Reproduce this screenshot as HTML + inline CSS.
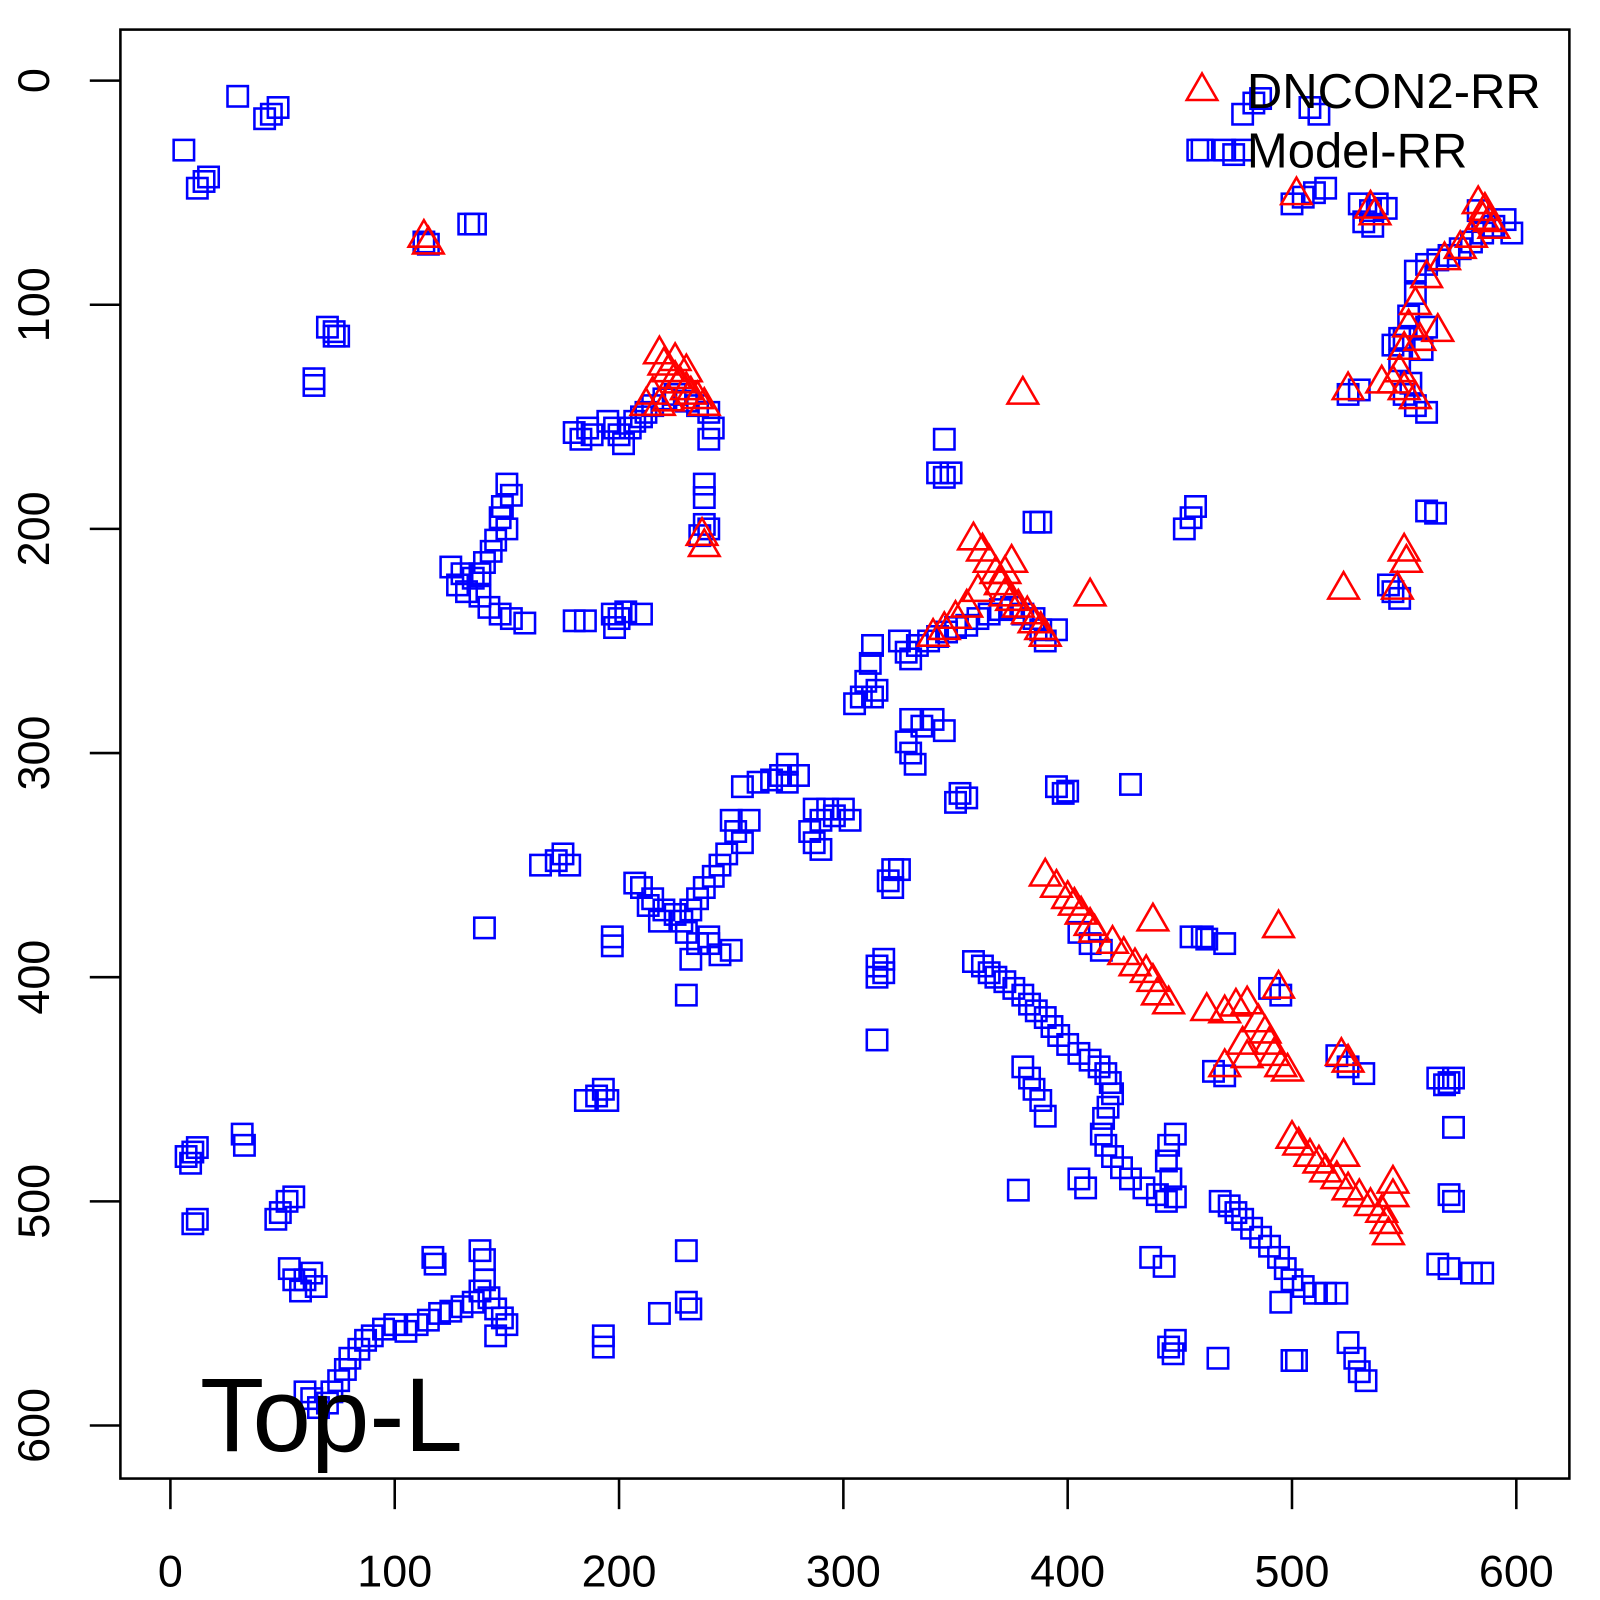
<!DOCTYPE html>
<html><head><meta charset="utf-8"><style>
html,body{margin:0;padding:0;background:#fff}
svg{display:block;font-family:"Liberation Sans",Arial,sans-serif}
</style></head><body>
<svg id="chart" width="1600" height="1600" viewBox="0 0 1600 1600">
<g transform="scale(1.0204)">
<rect x="118" y="29" width="1420" height="1420" fill="none" stroke="#000" stroke-width="2.5"/>
<g id="axes"></g>
<g id="blue"></g>
<g id="red"></g>
<g>
<polygon points="1178,72 1193,98 1163,98" fill="none" stroke="red" stroke-width="2.5"/>
<text x="1222" y="106" font-size="48">DNCON2-RR</text>
<rect x="1168" y="137" width="20" height="20" fill="none" stroke="blue" stroke-width="2.5"/>
<text x="1222" y="164" font-size="48">Model-RR</text>
</g>
<text x="196" y="1422" font-size="103">Top-L</text>
</g>
</svg>
<script>
const xTicks=[0,100,200,300,400,500,600];
const yTicks=[0,100,200,300,400,500,600];
const modelX=[30,45,48,42,6,12,15,17,113,115,133,136,70,73,75,73,64,64,180,183,186,188,195,198,200,202,205,207,210,212,215,220,225,230,235,240,242,240,238,238,238,240,236,150,152,148,147,150,145,143,140,138,135,130,125,128,132,138,142,147,152,158,180,185,197,200,203,210,198,345,342,345,348,385,388,325,328,330,333,338,342,346,350,355,360,365,370,375,380,385,388,390,395,313,312,310,308,305,313,315,330,335,340,345,328,330,332,455,457,452,560,564,275,272,268,262,255,280,275,287,290,293,296,300,303,285,287,290,352,350,355,395,398,400,428,322,320,322,325,250,252,255,258,248,245,242,238,235,232,228,225,220,215,210,207,213,218,230,235,232,240,245,250,240,197,197,230,140,165,172,175,178,315,318,315,318,315,358,362,365,368,372,376,380,383,386,390,393,396,400,405,410,414,417,419,420,418,416,415,417,420,424,428,434,440,444,448,446,444,445,448,380,383,385,388,390,378,405,408,437,443,445,447,448,467,468,472,475,478,482,486,490,494,497,500,505,510,515,520,495,500,502,525,528,530,533,565,570,580,585,565,570,572,568,572,570,572,520,525,532,465,470,490,495,455,460,462,470,405,410,415,478,483,486,508,512,470,474,478,458,500,505,510,515,530,535,538,542,532,536,555,560,565,570,575,580,585,590,595,598,583,555,552,550,548,550,555,560,553,525,530,545,548,558,560,545,548,543,7,9,10,12,32,33,10,12,47,49,52,55,53,55,58,60,63,65,117,118,60,63,66,70,72,75,78,80,84,87,90,95,100,105,110,115,120,125,130,135,138,142,145,148,150,145,140,138,140,185,190,193,195,193,193,218,230,232,230];
const modelY=[7,15,12,17,31,48,45,43,72,73,64,64,110,112,114,114,133,136,157,160,155,158,152,155,158,162,155,152,150,148,145,142,140,143,145,148,155,160,180,186,198,200,203,180,185,190,195,200,205,210,215,220,222,220,217,225,228,230,235,238,240,242,241,241,238,240,237,238,244,160,175,177,175,197,197,250,255,258,252,250,248,246,244,243,240,238,236,235,238,240,245,250,245,252,260,268,275,278,275,272,285,288,285,290,295,300,305,195,190,200,192,193,305,310,312,313,315,310,313,325,330,325,328,325,330,335,340,343,318,322,320,315,318,317,314,352,357,360,352,330,335,340,330,345,350,355,360,365,370,375,372,370,365,360,358,368,375,380,385,392,385,390,388,382,382,386,408,378,350,348,345,350,395,392,400,398,428,393,395,398,400,402,405,408,412,415,418,422,426,430,434,437,440,443,447,452,458,463,470,475,480,485,490,494,497,500,498,490,482,475,470,440,445,450,455,462,495,490,494,525,529,565,568,562,570,500,502,505,508,512,516,520,525,530,535,538,541,541,541,545,571,571,563,570,576,580,528,530,532,532,445,447,445,448,467,497,500,435,440,443,442,444,405,408,382,382,383,385,380,385,388,15,10,8,12,15,31,33,31,31,55,52,50,48,55,58,55,57,63,65,85,82,80,78,75,72,68,65,62,68,58,95,105,115,125,140,145,148,135,140,138,118,115,120,110,228,231,225,480,483,478,476,470,475,510,508,508,505,500,498,530,535,540,535,532,538,525,528,585,588,592,590,585,580,575,570,566,562,560,557,555,558,555,553,550,549,547,545,540,543,548,552,555,560,535,522,526,455,453,450,455,560,565,550,545,548,522];
const dnconX=[113,115,218,220,222,225,227,230,232,235,238,225,230,215,218,222,212,237,238,380,358,362,365,368,370,372,375,378,382,385,388,390,375,372,360,355,350,345,340,410,390,395,400,403,406,410,412,420,425,430,435,438,440,445,438,462,470,475,480,485,488,490,492,495,498,478,480,470,494,494,522,525,500,503,508,512,515,520,523,525,530,535,540,542,545,543,545,502,535,537,583,586,588,590,585,580,575,568,560,555,552,550,548,550,555,545,540,525,565,557,550,551,547,523];
const dnconY=[70,73,122,127,130,133,135,138,140,142,145,125,130,140,145,143,145,203,208,140,205,210,215,220,225,230,232,235,238,242,245,248,215,220,228,235,240,245,248,230,355,360,365,368,372,377,380,385,390,395,398,402,408,412,375,415,416,413,412,420,425,430,435,440,442,430,436,440,378,405,435,438,472,475,480,483,487,490,480,495,498,502,505,510,498,515,492,51,57,60,55,58,63,66,62,70,75,80,88,100,110,120,130,138,142,135,135,138,112,116,210,215,227,227];
const NS="http://www.w3.org/2000/svg";
const X0=167,XS=1319/600,Y0=79,YS=1318/600;
function sx(v){return X0+v*XS;}
function sy(v){return Y0+v*YS;}
const axes=document.getElementById('axes');
function mk(tag,attrs,parent){const e=document.createElementNS(NS,tag);for(const k in attrs)e.setAttribute(k,attrs[k]);parent.appendChild(e);return e;}
xTicks.forEach(t=>{
  const l=mk('line',{x1:sx(t),x2:sx(t),y1:1449,y2:1479,stroke:'#000','stroke-width':2.5},axes);
  
  
  const tx=mk('text',{x:sx(t),y:1555,'font-size':44,'text-anchor':'middle'},axes);
  tx.textContent=t;
  
  
});
yTicks.forEach(t=>{
  const l=mk('line',{x1:88,x2:118,y1:sy(t),y2:sy(t),stroke:'#000','stroke-width':2.5},axes);
  
  
  const tx=mk('text',{x:0,y:0,'font-size':44,'text-anchor':'middle',transform:'translate(48,'+sy(t)+') rotate(-90)'},axes);
  tx.textContent=t;
  
  
});
const blue=document.getElementById('blue');
modelX.forEach((v,i)=>{
  const r=mk('rect',{x:sx(v)-10,y:sy(modelY[i])-10,width:20,height:20,fill:'none',stroke:'blue','stroke-width':2.5},blue);
  
  
});
const red=document.getElementById('red');
dnconX.forEach((v,i)=>{
  const cx=sx(v),cy=sy(dnconY[i]);
  const p=mk('polygon',{points:(cx)+','+(cy-17)+' '+(cx+15)+','+(cy+9)+' '+(cx-15)+','+(cy+9),fill:'none',stroke:'red','stroke-width':2.5},red);
  
  
});
</script>
</body></html>
